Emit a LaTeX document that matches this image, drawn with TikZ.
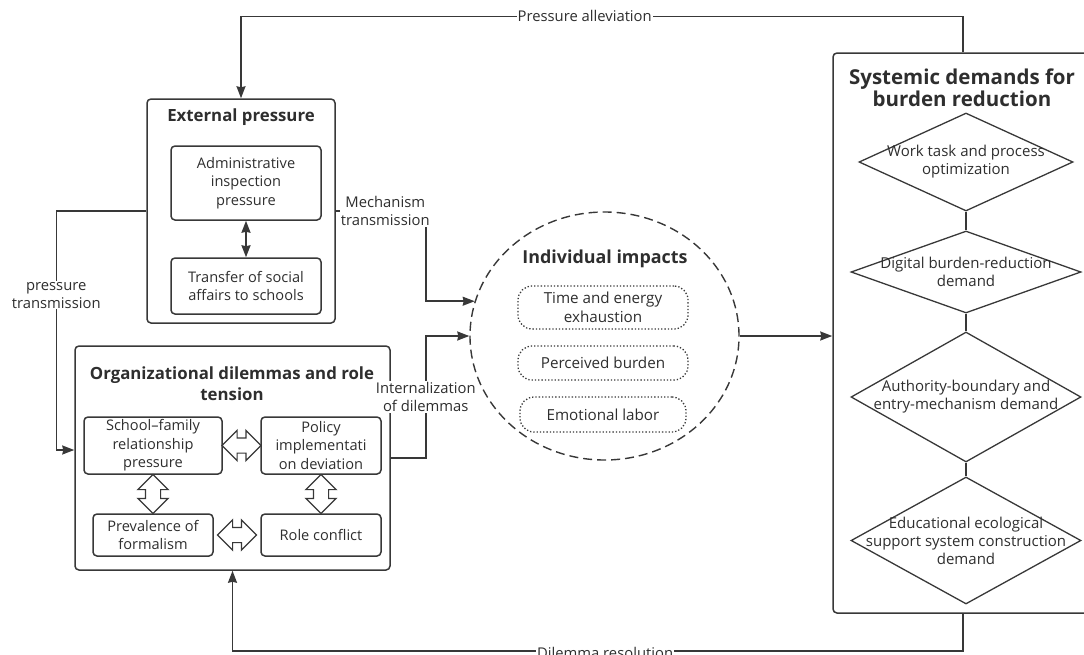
\documentclass[tikz,border=0pt]{standalone}
\usepackage{fontspec}
\setmainfont{Open Sans}
\usepackage{xcolor}
\usepackage{tikz}
\usetikzlibrary{arrows.meta}
\usetikzlibrary{shapes.geometric, shapes.arrows, positioning, calc}

\definecolor{linec}{HTML}{383838}
\definecolor{textc}{HTML}{2E2E2E}

\tikzset{
  frame/.style={draw=linec, line width=1.5pt, rounded corners=4pt},
  inbox/.style={draw=linec, line width=1.5pt, rounded corners=4pt, align=center,
    text=textc, inner sep=1pt, font=\fontsize{14.6}{18.5}\selectfont},
  title/.style={align=center, text=textc, font=\bfseries\fontsize{16.8}{21}\selectfont},
  dotbox/.style={draw=linec, dotted, line width=1.3pt, rounded corners=14pt, align=center,
    text=textc, inner sep=1pt, minimum width=170pt, font=\fontsize{15.2}{18.5}\selectfont},
  demand/.style={diamond, draw=linec, line width=1.3pt, align=center, text=textc,
    inner xsep=-55pt, inner ysep=-16pt, font=\fontsize{15}{18}\selectfont},
  hollow/.style={double arrow, draw=linec, line width=1.2pt, fill=white,
    inner xsep=0pt, inner ysep=7pt, double arrow head extend=7.5pt,
    minimum width=29pt, minimum height=39pt},
  lbl/.style={fill=white, align=center, text=textc, inner sep=1pt,
    font=\fontsize{14.8}{18}\selectfont},
  conn/.style={draw=linec, line width=1.5pt},
}

\begin{document}
\begin{tikzpicture}[>={Stealth[length=12pt, width=9pt, inset=1pt]}, x=1pt, y=-1pt]
  \path[use as bounding box, clip] (0,0) rectangle (1084,654);

  % external pressure
  \node[frame, minimum width=188pt, minimum height=224pt] (ext) at (241,211) {};
  \node[title] (exttitle) at (241,117) {External pressure};
  \node[inbox, minimum width=150pt, minimum height=74pt] (adm) at (246,183)
    {Administrative\\inspection\\pressure};
  \node[inbox, minimum width=150pt, minimum height=56pt] (trf) at (246,286)
    {Transfer of social\\affairs to schools};
  \draw[conn, <->, line width=1.8pt] (adm) -- (trf);

  % organizational dilemmas
  \node[frame, minimum width=315pt, minimum height=224pt] (org) at (232.5,458) {};
  \node[title] (orgtitle) at (232,384) {Organizational dilemmas and role\\tension};
  \node[inbox, minimum width=138pt, minimum height=57pt] (sf) at (153,445.5)
    {School--family\\relationship\\pressure};
  \node[inbox, minimum width=120pt, minimum height=57pt] (pid) at (321,445.5)
    {Policy\\implementati\\on deviation};
  \node[inbox, minimum width=120pt, minimum height=42pt] (pf) at (153,535)
    {Prevalence of\\formalism};
  \node[inbox, minimum width=120pt, minimum height=42pt] (rc) at (321,535)
    {Role conflict};
  \node[hollow] (sfpid) at ($(sf.east)!0.5!(pid.west)$) {};
  \node[hollow] (pfrc) at ($(pf.east)!0.5!(rc.west)$) {};
  \node[hollow, rotate=90] (sfpf) at ($(sf.south)!0.5!(pf.north)$) {};
  \node[hollow, rotate=90] (pidrc) at ($(pid.south)!0.5!(rc.north)$) {};

  % individual impacts
  \node[ellipse, draw=linec, line width=1.4pt, dash pattern=on 9pt off 5pt,
    minimum width=269pt, minimum height=248pt] (imp) at (604.5,336) {};
  \node[title, font=\bfseries\fontsize{17.9}{21}\selectfont] (imptitle) at (605,259)
    {Individual impacts};
  \node[dotbox, minimum height=43pt] (time) at (603,307.5) {Time and energy\\exhaustion};
  \node[dotbox, minimum height=34pt] (perc) at (603,363) {Perceived burden};
  \node[dotbox, minimum height=35pt, minimum width=166pt] (emo) at (603,414.5) {Emotional labor};

  % systemic demands
  \node[frame, minimum width=260pt, minimum height=560pt] (sys) at (963,333) {};
  \node[title, font=\bfseries\fontsize{20.5}{22}\selectfont] (systitle) at (962,88)
    {Systemic demands for\\burden reduction};
  \node[demand, minimum width=214pt, minimum height=98pt] (d1) at (966,162)
    {Work task and process\\optimization};
  \node[demand, minimum width=230pt, minimum height=82pt] (d2) at (966,272)
    {Digital burden-reduction\\demand};
  \node[demand, minimum width=230pt, minimum height=130pt] (d3) at (966,397)
    {Authority-boundary and\\entry-mechanism demand};
  \node[demand, minimum width=230pt, minimum height=127pt] (d4) at (966,540.5)
    {Educational ecological\\support system construction\\demand};
  \draw[conn] (d1) -- (d2);
  \draw[conn] (d2) -- (d3);
  \draw[conn] (d3) -- (d4);

  % connectors
  \draw[conn, ->] (ext.west) -- ++(-90,0)
    |- node[lbl, pos=0.176] {pressure\\transmission} ([yshift=8pt]org.west);
  \draw[conn, ->] (ext.east) -- node[lbl, pos=0.55] {Mechanism\\transmission} ++(90,0)
    |- (imp.165);
  \draw[conn, ->] (org.east) -- ++(35,0)
    |- node[lbl, pos=0.25] {Internalization\\of dilemmas} (imp.west);
  \draw[conn, ->] (imp.east) -- (imp.east -| sys.west);
  \draw[conn, ->] (sys.north) -- ++(0,-36)
    -| node[lbl, pos=0.262] {Pressure alleviation} (ext.north);
  \draw[conn, ->] (sys.south) -- ++(0,37)
    -| node[lbl, pos=0.245, yshift=-2pt] {Dilemma resolution} (org.south);
\end{tikzpicture}
\end{document}
